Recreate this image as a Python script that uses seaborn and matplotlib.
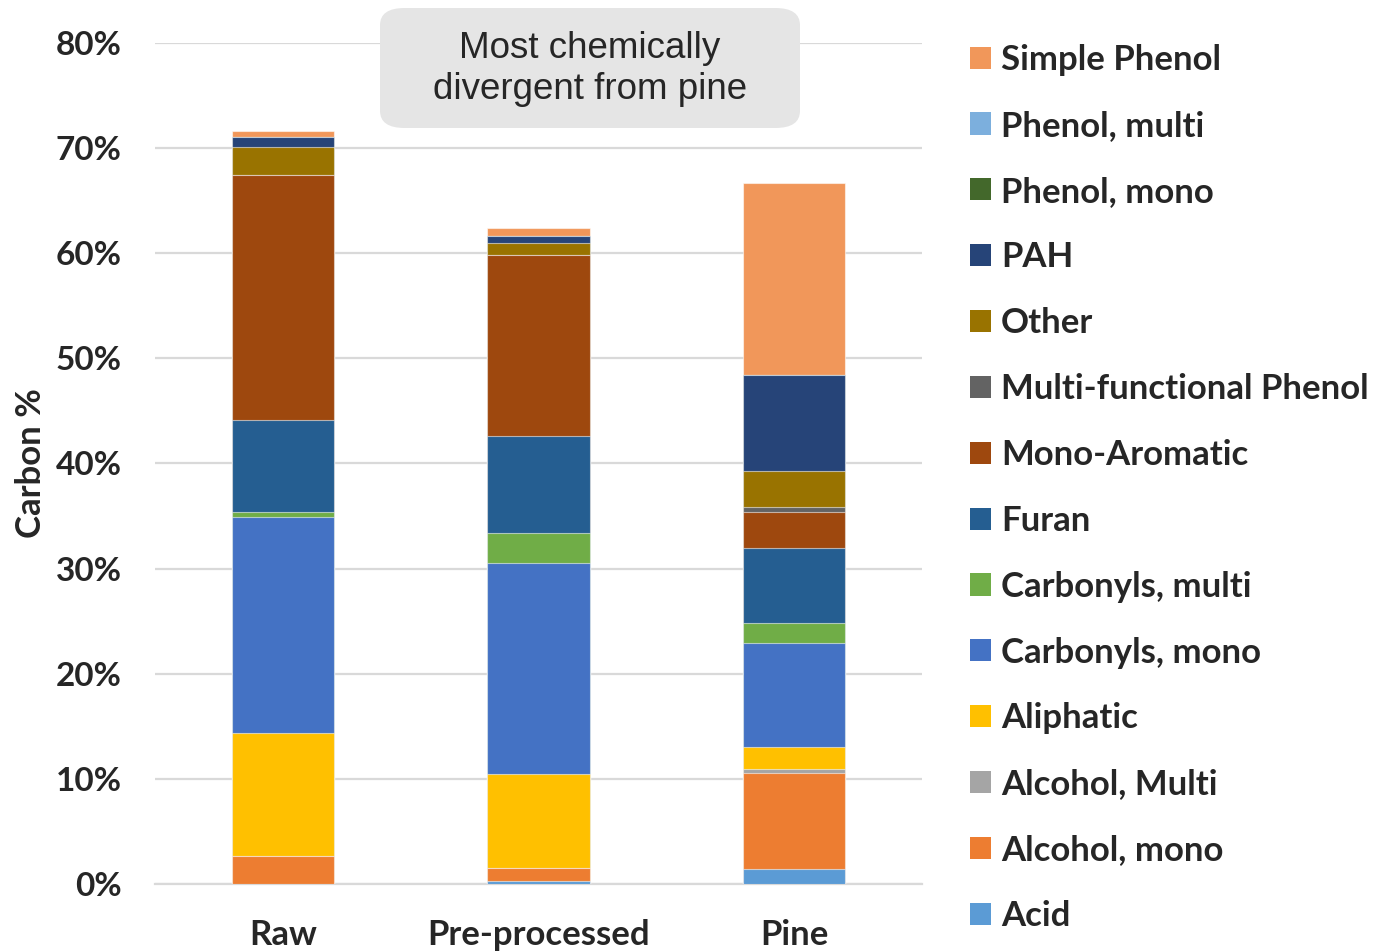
import matplotlib
matplotlib.use("Agg")
import matplotlib.pyplot as plt
from matplotlib.patches import Patch, FancyBboxPatch
import numpy as np
import pandas as pd
import seaborn as sns

# Samples on the x axis
samples = ["Raw", "Pre-processed", "Pine"]

# Carbon % by compound class (bottom of stack first)
acid = [0.0, 0.3, 1.4]
alcohol_mono = [2.7, 1.25, 9.2]
alcohol_multi = [0.0, 0.0, 0.38]
aliphatic = [11.7, 8.9, 2.07]
carbonyls_mono = [20.55, 20.1, 9.86]
carbonyls_multi = [0.42, 2.83, 1.93]
furan = [8.75, 9.23, 7.1]
mono_aromatic = [23.3, 17.25, 3.4]
multi_phenol = [0.0, 0.0, 0.54]
other = [2.7, 1.08, 3.4]
pah = [0.95, 0.7, 9.16]
phenol_mono = [0.0, 0.0, 0.0]
phenol_multi = [0.0, 0.0, 0.0]
simple_phenol = [0.55, 0.73, 18.27]

series_names = ["Acid", "Alcohol, mono", "Alcohol, Multi", "Aliphatic",
                "Carbonyls, mono", "Carbonyls, multi", "Furan", "Mono-Aromatic",
                "Multi-functional Phenol", "Other", "PAH", "Phenol, mono",
                "Phenol, multi", "Simple Phenol"]
series_values = [acid, alcohol_mono, alcohol_multi, aliphatic, carbonyls_mono,
                 carbonyls_multi, furan, mono_aromatic, multi_phenol, other, pah,
                 phenol_mono, phenol_multi, simple_phenol]
series_colors = ["#5B9BD5", "#ED7D31", "#A5A5A5", "#FFC000", "#4472C4",
                 "#70AD47", "#255E91", "#9E480E", "#636363", "#997300",
                 "#264478", "#43682B", "#7CAFDD", "#F1975A"]

sns.set_theme(style="white")
plt.rcParams["font.family"] = ["Lato", "DejaVu Sans"]

fig = plt.figure(figsize=(13.73, 9.51), dpi=100)
ax = fig.add_axes([0.1129, 0.0705, 0.5586, 0.8843])

df = pd.DataFrame({name: vals for name, vals in zip(series_names, series_values)},
                  index=samples)
cum = df.cumsum(axis=1)

# Draw cumulative totals from the top class down so each layer covers the next
for name, color in reversed(list(zip(series_names, series_colors))):
    sns.barplot(x=samples, y=cum[name].values, color=color, width=0.40,
                saturation=1, edgecolor=(1, 1, 1, 0.55), linewidth=0.8,
                ax=ax, zorder=3)

ax.set_ylim(0, 80)
ax.set_xlim(-0.5, 2.5)
ax.set_yticks(np.arange(0, 81, 10))
ax.set_yticklabels([f"{v}%" for v in range(0, 81, 10)])
ax.yaxis.grid(True, color="#D9D9D9", linewidth=1.6, zorder=0)
ax.set_axisbelow(True)
for s in ["top", "right", "left"]:
    ax.spines[s].set_visible(False)
ax.spines["bottom"].set_color("#D9D9D9")
ax.spines["bottom"].set_linewidth(1.6)
ax.tick_params(axis="y", length=0, labelsize=24, pad=24)
ax.tick_params(axis="x", length=0, labelsize=25, pad=25)
for lbl in ax.get_xticklabels() + ax.get_yticklabels():
    lbl.set_fontweight("bold")
ax.set_ylabel("Carbon %", fontsize=25, fontweight="bold", labelpad=6)
ax.set_xlabel("")

# Annotation box
box = FancyBboxPatch((380 / 1373, 1 - 128 / 951), 420 / 1373, 120 / 951,
                     boxstyle="round,pad=0,rounding_size=0.018",
                     transform=fig.transFigure, facecolor="#E5E5E5",
                     edgecolor="none", zorder=5)
fig.patches.append(box)
fig.text(590 / 1373, 1 - 69 / 951, "Most chemically\ndivergent from pine",
         ha="center", va="center", fontsize=26.5, linespacing=1.25,
         family=["Liberation Sans", "DejaVu Sans"], zorder=6)

handles = [Patch(facecolor=c, edgecolor="none", label=n)
           for n, c in zip(series_names, series_colors)][::-1]
leg = fig.legend(handles=handles, loc="upper left",
                 bbox_to_anchor=(956 / 1373, 1 - 30 / 951), frameon=False,
                 prop={"size": 25, "weight": "bold"}, handlelength=0.6,
                 handleheight=0.6, handletextpad=0.3, labelspacing=0.975,
                 borderaxespad=0)

fig.savefig("out.png", dpi=100)
